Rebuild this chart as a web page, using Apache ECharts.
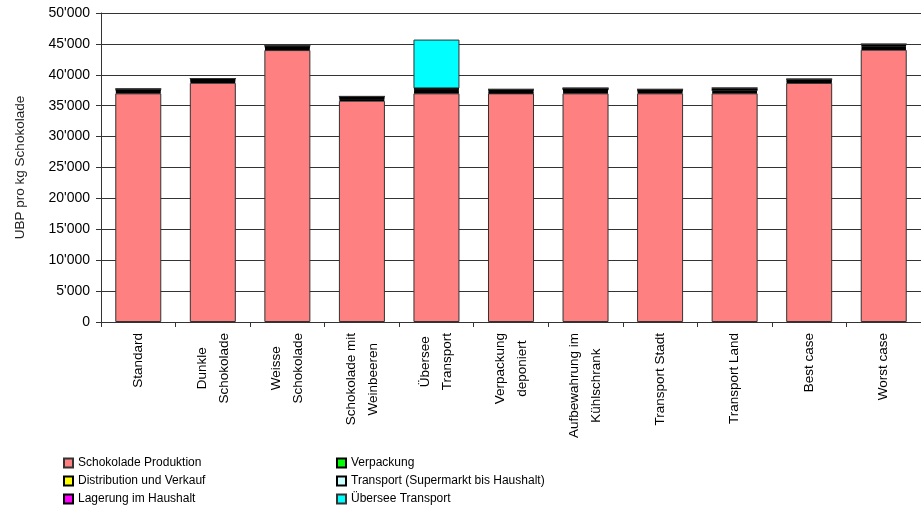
<!DOCTYPE html>
<html><head><meta charset="utf-8">
<script src="https://cdn.jsdelivr.net/npm/echarts@6/dist/echarts.min.js"></script>
<style>html,body{margin:0;padding:0;background:#fff}#c{width:921px;height:513px}</style>
</head><body><div id="c"></div>
<script>
const categories = ["Standard","Dunkle\nSchokolade","Weisse\nSchokolade","Schokolade mit\nWeinbeeren","Übersee\nTransport","Verpackung\ndeponiert","Aufbewahrung im\nKühlschrank","Transport Stadt","Transport Land","Best case","Worst case"];
const produktion   = [37000, 38700, 44000, 35800, 37000, 37000, 37000, 37000, 37000, 38700, 44050];
const verpackung   = [200, 200, 200, 200, 200, 150, 200, 200, 200, 150, 250];
const distribution = [200, 200, 200, 200, 200, 200, 200, 200, 200, 150, 250];
const transport    = [150, 150, 150, 150, 250, 150, 150, 100, 300, 150, 250];
const lagerung     = [150, 150, 150, 150, 150, 150, 300, 150, 150, 150, 150];
const uebersee     = [0, 0, 0, 0, 7900, 0, 0, 0, 0, 0, 0];
const yTicks = [0, 5000, 10000, 15000, 20000, 25000, 30000, 35000, 40000, 45000, 50000];

const FONT = "'Liberation Sans', Arial, sans-serif";
function mk(name, data, color, border, bw) {
  return {name, type:'bar', stack:'s', data, barWidth:46,
    itemStyle:{color, borderColor:border, borderWidth:bw}, emphasis:{disabled:true}};
}
const legendBase = {orient:'vertical', top:457, padding:0, itemWidth:9, itemHeight:9, itemGap:6,
  icon:'rect', selectedMode:false, textStyle:{fontSize:12, color:'#000', fontFamily:FONT}};
const chart = echarts.init(document.getElementById('c'), null, {renderer:'canvas'});
chart.setOption({
  animation:false,
  textStyle:{fontFamily:FONT},
  grid:{left:101, top:13, bottom:191, right:-8},
  xAxis:{type:'category', data:categories,
    axisLine:{lineStyle:{color:'#333', width:1}},
    axisTick:{show:true, length:5, interval:0, lineStyle:{color:'#333'}},
    axisLabel:{interval:0, rotate:90, margin:11, color:'#000', fontSize:13.5, fontFamily:FONT,
      formatter: v => v.split('\n').map(l => '{c|' + l + '}').join('\n'),
      rich:{c:{align:'center', fontSize:13.5, lineHeight:22, fontFamily:FONT, color:'#000'}}}
  },
  yAxis:{type:'value', min:yTicks[0], max:yTicks[yTicks.length-1], interval:5000,
    name:'UBP pro kg Schokolade', nameLocation:'middle', nameGap:74,
    nameTextStyle:{color:'#222', fontSize:13.5, fontFamily:FONT},
    axisLine:{show:true, lineStyle:{color:'#333'}},
    axisTick:{show:true, length:5, lineStyle:{color:'#333'}},
    axisLabel:{color:'#000', fontSize:14, margin:11, fontFamily:FONT,
      formatter: v => String(v).replace(/\B(?=(\d{3})+(?!\d))/g, "'")},
    splitLine:{show:true, lineStyle:{color:'#333', width:1}}
  },
  legend:[
    Object.assign({left:63, data:['Schokolade Produktion','Distribution und Verkauf','Lagerung im Haushalt']}, legendBase),
    Object.assign({left:336, data:['Verpackung','Transport (Supermarkt bis Haushalt)','Übersee Transport']}, legendBase)
  ],
  series:[
    mk('Schokolade Produktion', produktion, '#FF8080', '#333', 1),
    mk('Verpackung', verpackung, '#00FF00', '#000', 1.8),
    mk('Distribution und Verkauf', distribution, '#FFFF00', '#000', 1.8),
    mk('Transport (Supermarkt bis Haushalt)', transport, '#CCFFFF', '#000', 1.8),
    mk('Lagerung im Haushalt', lagerung, '#FF00FF', '#000', 1.8),
    mk('Übersee Transport', uebersee, '#00FFFF', '#333', 1)
  ]
});
</script></body></html>
